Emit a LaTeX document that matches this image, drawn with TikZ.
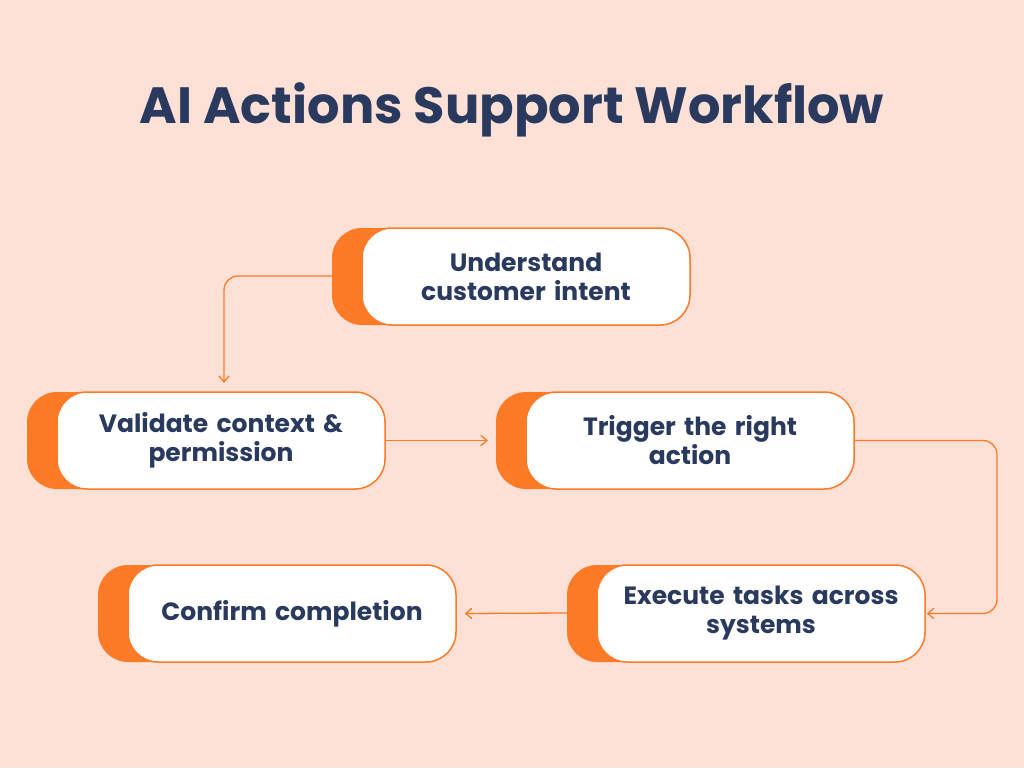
\documentclass[tikz,border=0pt]{standalone}
\usepackage{fontspec}
\setmainfont{Poppins}
\usetikzlibrary{arrows.meta}
\definecolor{peach}{HTML}{FDE1D7}
\definecolor{navy}{HTML}{2A3A5E}
\definecolor{tangerine}{HTML}{FD7A26}
\tikzset{
	x=1pt, y=-1pt,
	stage/.style={
		draw=tangerine,
		line width=1.5pt,
		fill=white,
		rounded corners=30pt,
		minimum width=328pt,
		minimum height=97pt,
		text width=310pt,
		align=center,
		font=\bfseries\fontsize{25}{29}\selectfont,
		text=navy,
	},
	shade/.style={
		fill=tangerine,
		rounded corners=30pt,
	},
	flow/.style={
		draw=tangerine,
		line width=1.3pt,
		rounded corners=14pt,
		-{Straight Barb[angle=80:8pt 0]}
	},
}
\begin{document}
\begin{tikzpicture}
	\fill[peach] (0,0) rectangle (1024,768);
	\node[text=navy,font=\bfseries\fontsize{51}{56}\selectfont] (title) at (512,110) {AI Actions Support Workflow};

	% orange backs
	\fill[shade] (332,228) rectangle (420,325);
	\fill[shade] (27,392) rectangle (115,489);
	\fill[shade] (496,392) rectangle (584,489);
	\fill[shade] (567,565) rectangle (655,662);
	\fill[shade] (98,565) rectangle (186,662);

	\node[stage] (S1) at (526,276.5) {Understand\\customer intent};
	\node[stage] (S2) at (221,440.5) {Validate context \&\\permission};
	\node[stage] (S3) at (690,440.5) {Trigger the right\\action};
	\node[stage] (S4) at (761,613.5) {Execute tasks across\\systems};
	\node[stage] (S5) at (292,613.5) {Confirm completion};

	\coordinate (a1) at (332,276);
	\coordinate (a2) at (567,613);
	\draw[flow] (a1) -| (224,383);
	\draw[flow] (S2.east) -- (488,440.5);
	\draw[flow] (S3.east) -- (997,440.5) |- ([xshift=1pt]S4.east);
	\draw[flow] (a2) -- ([xshift=8pt]S5.east);
\end{tikzpicture}
\end{document}
